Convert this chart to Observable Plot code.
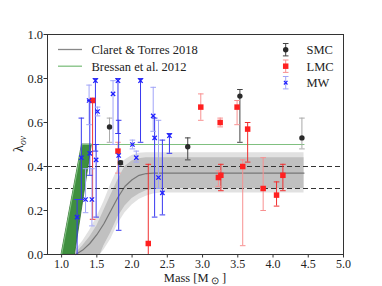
<!DOCTYPE html>
<html><head><meta charset="utf-8">
<script src="https://cdn.jsdelivr.net/npm/d3@7"></script>
<script src="https://cdn.jsdelivr.net/npm/@observablehq/plot@0.6"></script>
<style>body{margin:0;background:#fff}</style>
</head><body><div id="chart"></div>
<script>
// ---- data ----
const xTicks = [1.0, 1.5, 2.0, 2.5, 3.0, 3.5, 4.0, 4.5, 5.0];
const xTickLabels = ["1.0","1.5","2.0","2.5","3.0","3.5","4.0","4.5","5.0"];
const yTicks = [0.0, 0.2, 0.4, 0.6, 0.8, 1.0];
const yTickLabels = ["0.0","0.2","0.4","0.6","0.8","1.0"];

// SMC
const smcMass  = [1.68, 1.835, 2.79, 3.53, 4.41];
const smcLam   = [0.58, 0.417, 0.49, 0.72, 0.53];
const smcLo    = [0.51, 0.41, 0.43, 0.51, 0.48];
const smcHi    = [0.62, 0.425, 0.53, 0.75, 0.62];
const smcLight = [1, 0, 0, 0, 1];
// LMC
const lmcMass  = [1.44, 1.80, 2.23, 2.975, 3.25, 3.49, 3.64, 3.225, 3.26, 3.57, 3.86, 4.05, 4.14];
const lmcLam   = [0.70, 0.47, 0.05, 0.67, 0.60, 0.67, 0.57, 0.35, 0.36, 0.40, 0.30, 0.27, 0.36];
const lmcLo    = [0.16, 0.37, 0.00, 0.61, 0.58, 0.59, 0.42, 0.31, 0.29, 0.04, 0.20, 0.22, 0.29];
const lmcHi    = [0.71, 0.51, 0.41, 0.73, 0.62, 0.70, 0.60, 0.38, 0.41, 0.43, 0.44, 0.33, 0.41];
const lmcLight = [0, 1, 0, 1, 1, 1, 0, 1, 0, 1, 1, 0, 0];
// MW
const mwMass  = [1.22, 1.28, 1.34, 1.39, 1.40, 1.43, 1.48, 1.49, 1.51, 1.73, 1.80, 1.81, 2.005, 2.06, 2.12, 2.30, 2.32, 2.375, 2.43, 2.53];
const mwLam   = [0.17, 0.44, 0.25, 0.70, 0.46, 0.25, 0.79, 0.43, 0.65, 0.73, 0.79, 0.45, 0.50, 0.44, 0.79, 0.63, 0.53, 0.35, 0.28, 0.54];
const mwLo    = [0.00, 0.25, 0.19, 0.59, 0.36, 0.13, 0.47, 0.17, 0.63, 0.50, 0.55, 0.11, 0.48, 0.42, 0.51, 0.56, 0.17, 0.30, 0.18, 0.46];
const mwHi    = [0.25, 0.62, 0.39, 0.77, 0.70, 0.39, 0.80, 0.50, 0.67, 0.79, 0.80, 0.61, 0.52, 0.47, 0.80, 0.76, 0.62, 0.61, 0.52, 0.55];
const mwLight = [0, 0, 1, 1, 0, 1, 0, 0, 1, 1, 0, 0, 1, 1, 0, 1, 0, 1, 0, 0];

// Claret & Torres 2018 relation with uncertainty bands
const ctMass    = [1.15, 1.20, 1.30, 1.40, 1.50, 1.55, 1.60, 1.70, 1.80, 1.90, 2.00, 2.10, 2.20, 2.30, 2.40, 2.60, 4.44];
const ctCenter  = [0.00, 0.00, 0.02, 0.05, 0.09, 0.115, 0.14, 0.20, 0.26, 0.31, 0.34, 0.36, 0.368, 0.37, 0.37, 0.37, 0.37];
const ctDarkLo  = [0.00, 0.00, 0.00, 0.00, 0.00, 0.00, 0.04, 0.10, 0.17, 0.22, 0.255, 0.275, 0.29, 0.297, 0.30, 0.30, 0.30];
const ctDarkHi  = [0.00, 0.005, 0.04, 0.08, 0.13, 0.165, 0.20, 0.27, 0.34, 0.40, 0.425, 0.435, 0.44, 0.44, 0.44, 0.44, 0.44];
const ctLightLo = [0.00, 0.00, 0.00, 0.00, 0.00, 0.00, 0.02, 0.07, 0.14, 0.19, 0.225, 0.25, 0.265, 0.275, 0.28, 0.28, 0.28];
const ctLightHi = [0.00, 0.02, 0.06, 0.11, 0.17, 0.205, 0.24, 0.32, 0.39, 0.43, 0.45, 0.46, 0.462, 0.462, 0.462, 0.462, 0.462];

// Bressan et al. 2012
const brLam   = [0.0, 0.5];
const brLeft  = [1.00, 1.29];
const brRight = [1.19, 1.43];
const brLineMass = [0.8, 1.0, 1.29, 4.44];
const brLineLam  = [0.0, 0.0, 0.5, 0.5];

const refLines = [0.4, 0.3];

// ---- tables built from arrays ----
const rows = (mass, lam, lo, hi, light) => mass.map((m, i) => ({m, lam: lam[i], lo: lo[i], hi: hi[i], light: light[i]}));
const smc = rows(smcMass, smcLam, smcLo, smcHi, smcLight);
const lmc = rows(lmcMass, lmcLam, lmcLo, lmcHi, lmcLight);
const mw  = rows(mwMass, mwLam, mwLo, mwHi, mwLight);
const ct = ctMass.map((m, i) => ({m, c: ctCenter[i], dlo: ctDarkLo[i], dhi: ctDarkHi[i], llo: ctLightLo[i], lhi: ctLightHi[i]}));
const ctLine = ct.filter(d => d.m >= 1.2);
const brBand = brLam.map((l, i) => ({lam: l, left: brLeft[i], right: brRight[i]}));
const brLine = brLineMass.map((m, i) => ({m, lam: brLineLam[i]}));

const cap = {draw(ctx, size) { const w = Math.sqrt(size / Math.PI); ctx.moveTo(-w, 0); ctx.lineTo(w, 0); }};

function errMarks(data, dark, light) {
  const col = d => d.light ? light : dark;
  return [
    Plot.ruleX(data, {x: "m", y1: "lo", y2: "hi", stroke: col, strokeWidth: 1}),
    Plot.dot(data, {x: "m", y: "lo", symbol: cap, r: 2.8, stroke: col, strokeWidth: 1, fill: "none"}),
    Plot.dot(data, {x: "m", y: "hi", symbol: cap, r: 2.8, stroke: col, strokeWidth: 1, fill: "none"})
  ];
}

const font = "'Liberation Serif', 'Times New Roman', serif";

const svgEl = Plot.plot({
  width: 382, height: 286,
  marginLeft: 47, marginRight: 39, marginTop: 34, marginBottom: 32,
  style: {fontFamily: font, fontSize: "12.5px", background: "#fff", color: "#222"},
  x: {domain: [0.8, 5.0]},
  y: {domain: [0, 1]},
  marks: [
    Plot.areaY(ct, {x: "m", y1: "llo", y2: "lhi", fill: "#e1e1e1"}),
    Plot.areaY(ct, {x: "m", y1: "dlo", y2: "dhi", fill: "#c0c0c0"}),
    Plot.line(ctLine, {x: "m", y: "c", stroke: "#777", strokeWidth: 1.2}),
    Plot.ruleY(refLines, {stroke: "#333", strokeWidth: 1.1, strokeDasharray: "5,3"}),
    Plot.areaX(brBand, {y: "lam", x1: "left", x2: "right", fill: "#3f8f3f", stroke: "#2d6b2d", strokeWidth: 0.8}),
    Plot.line(brLine, {x: "m", y: "lam", stroke: "#80c080", strokeWidth: 1.1}),
    ...errMarks(smc, "#444", "#aaa"),
    ...errMarks(lmc, "#f03030", "#f89090"),
    ...errMarks(mw, "#3838f0", "#a0a4f8"),
    Plot.dot(smc, {x: "m", y: "lam", r: 2.7, fill: "#2a2a2a", stroke: "none"}),
    Plot.dot(lmc, {x: "m", y: "lam", symbol: "square", r: 3.1, fill: "#ff2020", stroke: "none"}),
    Plot.dot(mw, {x: "m", y: "lam", symbol: "times", r: 2.1, stroke: "#2020ff", strokeWidth: 1.3}),
    Plot.axisX({ticks: xTicks, tickFormat: d => xTickLabels[xTicks.indexOf(d)], tickSize: 3.5, tickPadding: 1.5, label: null, stroke: "#333", fontSize: 12}),
    Plot.axisY({ticks: yTicks, tickFormat: d => yTickLabels[yTicks.indexOf(d)], tickSize: 3.5, tickPadding: 1, label: null, stroke: "#333"}),
    Plot.frame({stroke: "#333", strokeWidth: 1})
  ]
});
document.getElementById("chart").appendChild(svgEl);

// ---- axis titles and legend ----
const svg = d3.select(svgEl);
const xl = svg.append("text").attr("x", 195).attr("y", 281.5).attr("text-anchor", "middle")
  .attr("font-family", font).attr("font-size", 12.5).attr("fill", "#222");
xl.append("tspan").text("Mass [M");
xl.append("tspan").attr("dy", 2.5).attr("font-size", 9.5).text(" ⊙");
xl.append("tspan").attr("dy", -2.5).text(" ]");

const yl = svg.append("text").attr("transform", "translate(23,144) rotate(-90)").attr("text-anchor", "middle")
  .attr("font-family", font).attr("font-size", 14).attr("fill", "#222");
yl.append("tspan").text("λ");
yl.append("tspan").attr("dy", 3).attr("font-size", 9.5).attr("font-style", "italic").text("ov");

const leftLegend = [
  {label: "Claret & Torres 2018", color: "#888"},
  {label: "Bressan et al. 2012", color: "#80c080"}
];
leftLegend.forEach((d, i) => {
  const y = 49.5 + i * 16.7;
  svg.append("line").attr("x1", 58).attr("x2", 82).attr("y1", y).attr("y2", y).attr("stroke", d.color).attr("stroke-width", 1.3);
  svg.append("text").attr("x", 91.5).attr("y", y + 4.5).attr("text-anchor", "start").attr("font-family", font).attr("font-size", 12.5).attr("fill", "#222").text(d.label);
});

const rightLegend = [
  {label: "SMC", color: "#2a2a2a", bar: "#444", sym: d3.symbolCircle, size: 23, fill: true},
  {label: "LMC", color: "#ff2020", bar: "#f89090", sym: d3.symbolSquare, size: 30, fill: true},
  {label: "MW", color: "#2020ff", bar: "#a0a4f8", sym: d3.symbolTimes, size: 10, fill: false}
];
rightLegend.forEach((d, i) => {
  const y = 49.7 + i * 16.5, x = 285.7;
  const g = svg.append("g").attr("stroke-width", 1);
  g.append("line").attr("x1", x).attr("x2", x).attr("y1", y - 6.2).attr("y2", y + 6.2).attr("stroke", d.bar);
  g.append("line").attr("x1", x - 2.8).attr("x2", x + 2.8).attr("y1", y - 6.2).attr("y2", y - 6.2).attr("stroke", d.bar);
  g.append("line").attr("x1", x - 2.8).attr("x2", x + 2.8).attr("y1", y + 6.2).attr("y2", y + 6.2).attr("stroke", d.bar);
  g.append("path").attr("transform", `translate(${x},${y})`).attr("d", d3.symbol(d.sym, d.size)())
    .attr("fill", d.fill ? d.color : "none").attr("stroke", d.fill ? "none" : d.color).attr("stroke-width", 1.2);
  svg.append("text").attr("x", 306.5).attr("y", y + 4.5).attr("text-anchor", "start").attr("font-family", font).attr("font-size", 12.5).attr("fill", "#222").text(d.label);
});
</script>
</body></html>
